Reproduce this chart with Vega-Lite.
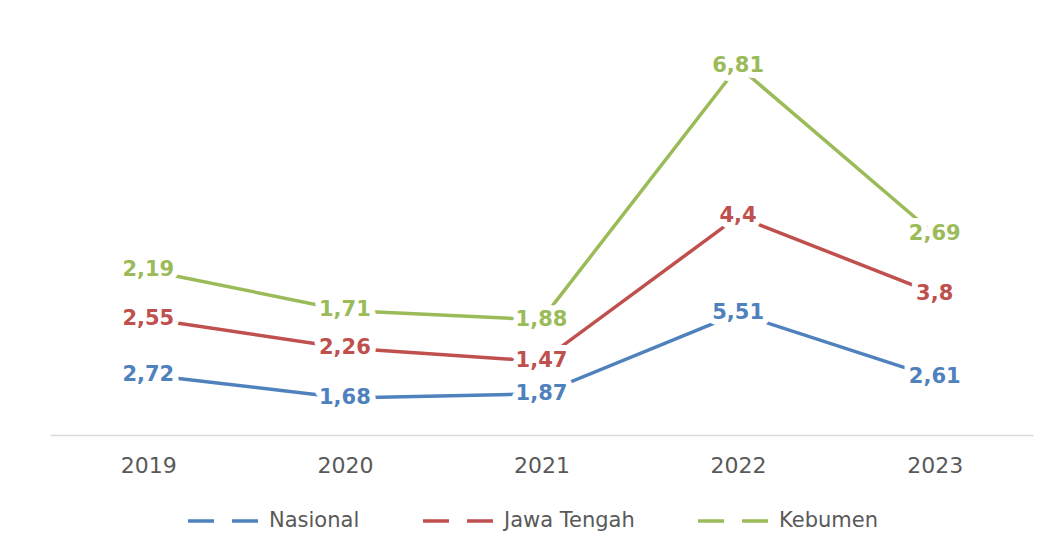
{
  "$schema": "https://vega.github.io/schema/vega-lite/v6.json",
  "width": 983,
  "height": 397,
  "autosize": {"type": "none"},
  "padding": {"left": 50, "top": 38, "right": 31, "bottom": 115},
  "background": "white",
  "config": {
    "view": {"stroke": null},
    "locale": {"number": {"decimal": ",", "thousands": ".", "grouping": [3], "currency": ["", ""]}},
    "font": "DejaVu Sans"
  },
  "data": {
    "values": [
      {"year": "2019", "series": "Nasional", "rank": 1, "value": 2.72},
      {"year": "2020", "series": "Nasional", "rank": 1, "value": 1.68},
      {"year": "2021", "series": "Nasional", "rank": 1, "value": 1.87},
      {"year": "2022", "series": "Nasional", "rank": 1, "value": 5.51},
      {"year": "2023", "series": "Nasional", "rank": 1, "value": 2.61},
      {"year": "2019", "series": "Jawa Tengah", "rank": 2, "value": 2.55},
      {"year": "2020", "series": "Jawa Tengah", "rank": 2, "value": 2.26},
      {"year": "2021", "series": "Jawa Tengah", "rank": 2, "value": 1.47},
      {"year": "2022", "series": "Jawa Tengah", "rank": 2, "value": 4.4},
      {"year": "2023", "series": "Jawa Tengah", "rank": 2, "value": 3.8},
      {"year": "2019", "series": "Kebumen", "rank": 3, "value": 2.19},
      {"year": "2020", "series": "Kebumen", "rank": 3, "value": 1.71},
      {"year": "2021", "series": "Kebumen", "rank": 3, "value": 1.88},
      {"year": "2022", "series": "Kebumen", "rank": 3, "value": 6.81},
      {"year": "2023", "series": "Kebumen", "rank": 3, "value": 2.69}
    ]
  },
  "transform": [
    {"stack": "value", "groupby": ["year"], "sort": [{"field": "rank", "order": "ascending"}], "as": ["y0", "y1"]}
  ],
  "encoding": {
    "x": {
      "field": "year", "type": "ordinal",
      "scale": {"type": "point", "padding": 0.5},
      "axis": {
        "title": null, "ticks": false, "labelAngle": 0,
        "labelFont": "DejaVu Sans", "labelFontSize": 22, "labelColor": "#595959",
        "labelPadding": 20, "domainColor": "#d9d9d9", "domainWidth": 1.5
      }
    },
    "y": {
      "field": "y1", "type": "quantitative",
      "scale": {"domain": [0, 18], "nice": false},
      "axis": null
    },
    "color": {
      "field": "series", "type": "nominal",
      "scale": {"domain": ["Nasional", "Jawa Tengah", "Kebumen"], "range": ["#4f81bd", "#c0504d", "#9bbb59"]}
    }
  },
  "layer": [
    {
      "mark": {"type": "line", "strokeWidth": 3.5, "strokeCap": "butt"},
      "encoding": {
        "color": {
          "field": "series", "type": "nominal",
          "scale": {"domain": ["Nasional", "Jawa Tengah", "Kebumen"], "range": ["#4f81bd", "#c0504d", "#9bbb59"]},
          "legend": {
            "title": null, "orient": "none", "direction": "horizontal",
            "legendX": 136, "legendY": 445, "padding": 0,
            "symbolType": "stroke", "symbolSize": 5184, "symbolStrokeWidth": 3.5,
            "symbolDash": [26, 18],
            "labelFont": "DejaVu Sans", "labelFontSize": 21, "labelColor": "#595959",
            "labelOffset": 7, "columnPadding": 56
          }
        }
      }
    },
    {
      "mark": {"type": "text", "font": "DejaVu Sans", "fontWeight": "bold", "fontSize": 21, "stroke": "white", "strokeWidth": 12, "strokeJoin": "round", "baseline": "middle", "align": "center"},
      "encoding": {
        "text": {"field": "value", "type": "quantitative", "format": "~r"},
        "color": {"value": "white"}
      }
    },
    {
      "mark": {"type": "text", "font": "DejaVu Sans", "fontWeight": "bold", "fontSize": 21, "baseline": "middle", "align": "center"},
      "encoding": {
        "text": {"field": "value", "type": "quantitative", "format": "~r"}
      }
    }
  ]
}
